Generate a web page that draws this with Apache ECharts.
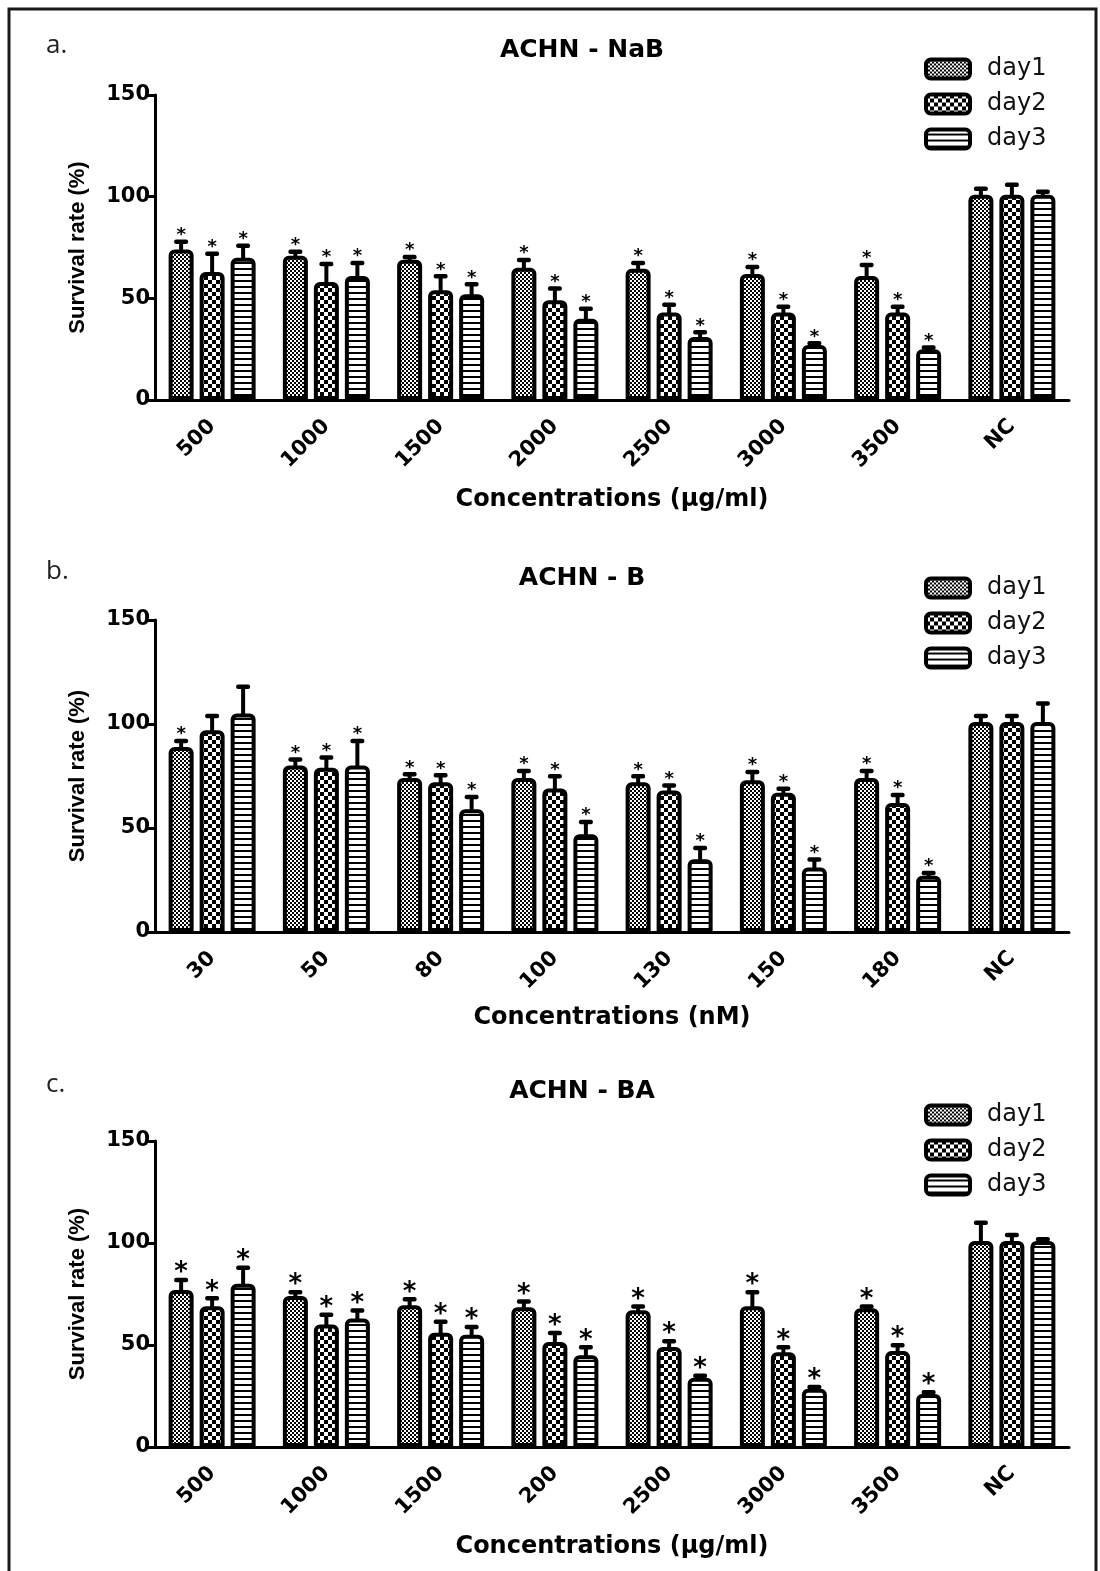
<!DOCTYPE html>
<html><head><meta charset="utf-8">
<script src="https://cdn.jsdelivr.net/npm/echarts@6/dist/echarts.min.js"></script>
<style>html,body{margin:0;padding:0;background:#fff}#c{width:1100px;height:1571px}</style>
</head><body><div id="c"></div>
<script>
// ---------- DATA ----------
const seriesNames = ['day1', 'day2', 'day3'];
const yTicks = [0, 50, 100, 150];

const panelTitles = ['ACHN - NaB', 'ACHN - B', 'ACHN - BA'];
const panelLetters = ['a.', 'b.', 'c.'];
const xTitles = ['Concentrations (\u03bcg/ml)', 'Concentrations (nM)', 'Concentrations (\u03bcg/ml)'];
const yTitle = 'Survival rate (%)';

const catA = ['500', '1000', '1500', '2000', '2500', '3000', '3500', 'NC'];
const day1A = [74, 71, 69, 65, 64.5, 62, 61, 101];
const day2A = [63, 58, 54, 49, 43, 43, 43, 101];
const day3A = [70, 61, 52, 40, 31, 27, 25, 101];
const err1A = [4, 2, 1.5, 4, 3, 3.5, 5.5, 3];
const err2A = [9, 9, 7, 6, 4, 3, 3, 5];
const err3A = [6, 6.5, 5, 5, 2.5, 1, 1, 1.5];
const star1A = [1, 1, 1, 1, 1, 1, 1, 0];
const star2A = [1, 1, 1, 1, 1, 1, 1, 0];
const star3A = [1, 1, 1, 1, 1, 1, 1, 0];

const catB = ['30', '50', '80', '100', '130', '150', '180', 'NC'];
const day1B = [89, 80, 74, 74, 72, 73, 74, 101];
const day2B = [97, 79, 72, 69, 68, 67, 62, 101];
const day3B = [105, 80, 59, 47, 35, 31, 27, 101];
const err1B = [3, 3, 2, 3.5, 3, 4, 3.5, 3];
const err2B = [7, 5, 3.5, 6, 2.5, 2, 4, 3];
const err3B = [13, 12, 6, 6, 5.5, 4, 1.5, 9];
const star1B = [1, 1, 1, 1, 1, 1, 1, 0];
const star2B = [0, 1, 1, 1, 1, 1, 1, 0];
const star3B = [0, 1, 1, 1, 1, 1, 1, 0];

const catC = ['500', '1000', '1500', '200', '2500', '3000', '3500', 'NC'];
const day1C = [77, 74, 69.5, 68.5, 67, 69, 68, 101];
const day2C = [69, 60, 56, 51.5, 49, 46.5, 47, 101];
const day3C = [80, 63, 55, 45, 34, 28.5, 26, 101];
const err1C = [5, 2, 3, 3, 2, 7, 1, 9];
const err2C = [4, 5, 5.5, 4.5, 3, 2.5, 3, 3];
const err3C = [8, 4, 4, 4, 1, 1, 1, 1];
const star1C = [1, 1, 1, 1, 1, 1, 1, 0];
const star2C = [1, 1, 1, 1, 1, 1, 1, 0];
const star3C = [1, 1, 1, 1, 1, 1, 1, 0];

// ---------- PATTERNS ----------
function makeChecker(cell) {
  const c = document.createElement('canvas');
  c.width = cell * 2; c.height = cell * 2;
  const g = c.getContext('2d');
  g.fillStyle = '#fff'; g.fillRect(0, 0, c.width, c.height);
  g.fillStyle = '#000';
  g.fillRect(0, 0, cell, cell);
  g.fillRect(cell, cell, cell, cell);
  return c;
}
function makeStripes(period, line) {
  const c = document.createElement('canvas');
  c.width = 4; c.height = period;
  const g = c.getContext('2d');
  g.fillStyle = '#fff'; g.fillRect(0, 0, c.width, c.height);
  g.fillStyle = '#000'; g.fillRect(0, period - line, c.width, line);
  return c;
}
const patterns = [
  { image: makeChecker(2), repeat: 'repeat' },
  { image: makeChecker(4), repeat: 'repeat' },
  { image: makeStripes(6, 2), repeat: 'repeat' }
];

// ---------- LAYOUT ----------
const panels = [
  { cat: catA, vals: [day1A, day2A, day3A], errs: [err1A, err2A, err3A], stars: [star1A, star2A, star3A],
    top: 95, height: 305, nameGap: 88, letterY: 50, titleY: 50, legendTop: 57, starFs: 18, starOff: 10 },
  { cat: catB, vals: [day1B, day2B, day3B], errs: [err1B, err2B, err3B], stars: [star1B, star2B, star3B],
    top: 620, height: 312, nameGap: 74, letterY: 576, titleY: 578, legendTop: 576, starFs: 18, starOff: 10 },
  { cat: catC, vals: [day1C, day2C, day3C], errs: [err1C, err2C, err3C], stars: [star1C, star2C, star3C],
    top: 1141, height: 306, nameGap: 88, letterY: 1089, titleY: 1091, legendTop: 1103, starFs: 26, starOff: 12 }
];

const BOLD = '"DejaVu Sans", sans-serif';
const grids = [], xAxes = [], yAxes = [], series = [], legends = [], graphics = [];

function errRender(starFs, starOff) {
  return function (params, api) {
    const ci = api.value(0), v = api.value(1), e = api.value(2), d = api.value(3), s = api.value(4);
    const base = api.coord([ci, v]);
    const top = api.coord([ci, v + e]);
    const x = base[0] + (d - 1) * 31;
    const ch = [];
    ch.push({ type: 'line', shape: { x1: x, y1: base[1] + 2, x2: x, y2: top[1] }, style: { stroke: '#000', lineWidth: 4 } });
    ch.push({ type: 'rect', shape: { x: x - 7, y: top[1] - 2, width: 14, height: 4.5, r: 2 }, style: { fill: '#000' } });
    if (s) {
      ch.push({ type: 'text', x: x, y: top[1] - starOff + starFs * 0.22,
        style: { text: '*', fill: '#000', font: 'bold ' + starFs + 'px "DejaVu Sans"', align: 'center', verticalAlign: 'middle' } });
    }
    return { type: 'group', children: ch };
  };
}

panels.forEach((p, i) => {
  grids.push({ left: 155, right: 31, top: p.top, height: p.height });
  xAxes.push({
    type: 'category', gridIndex: i, data: p.cat,
    axisLine: { lineStyle: { color: '#000', width: 3 } },
    axisTick: { alignWithLabel: true, length: 8, lineStyle: { color: '#000', width: 3 } },
    axisLabel: { rotate: 45, margin: 23, color: '#000', fontFamily: BOLD, fontWeight: 'bold', fontSize: 21 },
    name: xTitles[i], nameLocation: 'middle', nameGap: p.nameGap,
    nameTextStyle: { color: '#000', fontFamily: BOLD, fontWeight: 'bold', fontSize: 24 }
  });
  yAxes.push({
    type: 'value', gridIndex: i, min: yTicks[0], max: yTicks[yTicks.length - 1], interval: 50,
    axisLine: { show: true, lineStyle: { color: '#000', width: 3 } },
    axisTick: { show: true, length: 7, lineStyle: { color: '#000', width: 3 } },
    axisLabel: { color: '#000', fontFamily: BOLD, fontWeight: 'bold', fontSize: 21, margin: 5 },
    splitLine: { show: false },
    name: yTitle, nameLocation: 'middle', nameGap: 66, nameRotate: 90,
    nameTextStyle: { color: '#000', fontFamily: '"Liberation Sans", Arial, sans-serif', fontWeight: 'bold', fontSize: 22 }
  });
  for (let d = 0; d < 3; d++) {
    series.push({
      type: 'bar', name: seriesNames[d], xAxisIndex: i, yAxisIndex: i,
      data: p.vals[d], barWidth: 25, barGap: '24%',
      itemStyle: { color: patterns[d], borderColor: '#000', borderWidth: 4, borderRadius: [4, 4, 0, 0] },
      emphasis: { disabled: true }, z: 2
    });
  }
  const eData = [];
  for (let d = 0; d < 3; d++) {
    p.cat.forEach((c, k) => eData.push([k, p.vals[d][k], p.errs[d][k], d, p.stars[d][k]]));
  }
  series.push({
    type: 'custom', xAxisIndex: i, yAxisIndex: i, data: eData,
    encode: { x: 0, y: 1 }, renderItem: errRender(p.starFs, p.starOff), z: 3, silent: true
  });
  legends.push({
    data: seriesNames, orient: 'vertical', left: 924, top: p.legendTop, padding: 0,
    itemWidth: 44, itemHeight: 19, itemGap: 11, icon: 'roundRect',
    itemStyle: { borderColor: '#000', borderWidth: 4 },
    textStyle: { color: '#111', fontFamily: '"DejaVu Sans", sans-serif', fontSize: 24, lineHeight: 24, padding: [0, 0, 0, 12] },
    selectedMode: false
  });
  graphics.push({ type: 'text', left: 46, top: p.letterY - 17,
    style: { text: panelLetters[i], font: '26px "Open Sans"', fill: '#222' } });
  graphics.push({ type: 'text', x: 582, y: p.titleY,
    style: { text: panelTitles[i], font: 'bold 25px "DejaVu Sans"', fill: '#000', align: 'center', verticalAlign: 'middle' } });
});

graphics.push({ type: 'rect', shape: { x: 9, y: 9, width: 1087, height: 1580 },
  style: { fill: 'none', stroke: '#1a1a1a', lineWidth: 3 }, z: 10 });

const chart = echarts.init(document.getElementById('c'), null, { renderer: 'canvas' });
chart.setOption({
  animation: false,
  backgroundColor: '#fff',
  grid: grids, xAxis: xAxes, yAxis: yAxes, series: series, legend: legends, graphic: graphics
});
</script></body></html>
